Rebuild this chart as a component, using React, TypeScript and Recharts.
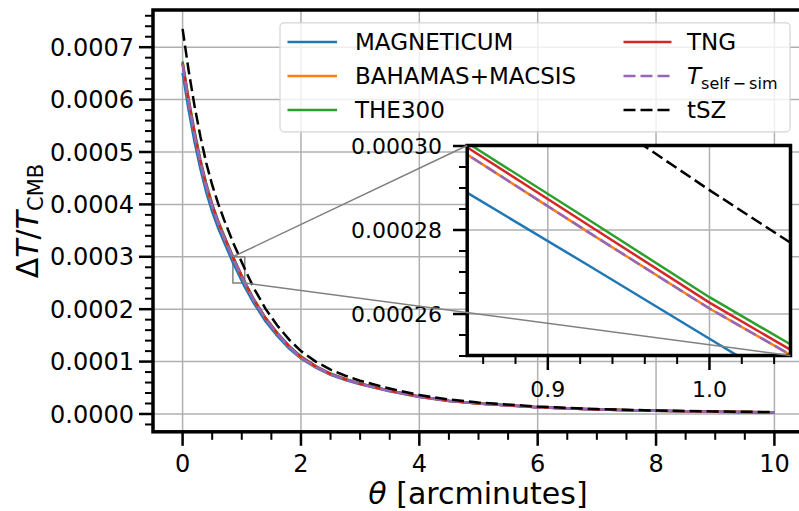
import React from 'react';
import { LineChart, Line, XAxis, YAxis, CartesianGrid, ReferenceArea } from 'recharts';

const W = 799;
const H = 511;
const FONT = '"DejaVu Sans", sans-serif';

// angular radius [arcmin]
const THETA = [0, 0.1, 0.2, 0.3, 0.4, 0.5, 0.6, 0.7, 0.85, 0.925, 1.0, 1.05, 1.2, 1.4, 1.6, 1.8, 2.0, 2.25, 2.5, 2.75, 3.0, 3.5, 4.0, 4.5, 5.0, 6.0, 7.0, 8.0, 9.0, 10.0];

const MAGNETICUM = [0.000651, 0.000581, 0.00052, 0.000468, 0.000423, 0.000386, 0.000355, 0.000328, 0.0002889, 0.0002716, 0.0002541, 0.0002425, 0.000212, 0.000177, 0.000149, 0.000125, 0.000106, 0.0000885, 0.0000745, 0.0000648, 0.0000566, 0.0000434, 0.0000326, 0.0000248, 0.0000198, 0.0000127, 0.0000085, 0.000006, 0.0000044, 0.0000033];
const BAHAMAS = [0.000669, 0.000598, 0.000535, 0.000481, 0.000435, 0.000397, 0.000365, 0.000337, 0.000298, 0.0002795, 0.0002613, 0.0002503, 0.000218, 0.000182, 0.000153, 0.000128, 0.000108, 0.00009, 0.000076, 0.000066, 0.0000575, 0.000044, 0.000033, 0.000025, 0.00002, 0.0000128, 0.0000085, 0.000006, 0.0000044, 0.0000033];
const THE300 = [0.000673, 0.000603, 0.000541, 0.000486, 0.00044, 0.000401, 0.000369, 0.000341, 0.0003008, 0.0002825, 0.000264, 0.0002528, 0.00022, 0.000184, 0.000155, 0.00013, 0.00011, 0.0000915, 0.0000772, 0.0000668, 0.0000582, 0.0000445, 0.0000334, 0.0000253, 0.0000202, 0.0000129, 0.0000086, 0.000006, 0.0000044, 0.0000033];
const TNG = [0.00067, 0.0006, 0.000538, 0.000483, 0.000437, 0.000399, 0.000367, 0.000339, 0.0002997, 0.0002812, 0.0002627, 0.0002515, 0.000219, 0.000183, 0.000154, 0.000129, 0.000109, 0.0000908, 0.0000766, 0.0000664, 0.0000578, 0.0000442, 0.0000332, 0.0000252, 0.0000201, 0.0000129, 0.0000086, 0.000006, 0.0000044, 0.0000033];
const SELF_SIM = [0.000667, 0.000597, 0.000535, 0.000481, 0.000435, 0.000397, 0.000365, 0.000337, 0.000298, 0.0002795, 0.0002613, 0.0002503, 0.000218, 0.000182, 0.000153, 0.000128, 0.000108, 0.00009, 0.000076, 0.000066, 0.0000575, 0.000044, 0.000033, 0.000025, 0.00002, 0.0000128, 0.0000085, 0.000006, 0.0000044, 0.0000033];
const TSZ = [0.000735, 0.000657, 0.000589, 0.00053, 0.000479, 0.000437, 0.000402, 0.000371, 0.000328, 0.000309, 0.0002895, 0.000277, 0.000241, 0.000201, 0.000169, 0.000142, 0.00012, 0.0001, 0.0000845, 0.000073, 0.0000635, 0.0000485, 0.0000362, 0.0000276, 0.000022, 0.0000141, 0.0000094, 0.0000066, 0.0000048, 0.0000036];

const X_TICKS = [0, 2, 4, 6, 8, 10];
const X_MINOR = [0.5, 1, 1.5, 2.5, 3, 3.5, 4.5, 5, 5.5, 6.5, 7, 7.5, 8.5, 9, 9.5];
const Y_TICKS = [0, 0.0001, 0.0002, 0.0003, 0.0004, 0.0005, 0.0006, 0.0007];
const Y_MINOR = [-0.00002, 0.00002, 0.00004, 0.00006, 0.00008, 0.00012, 0.00014, 0.00016, 0.00018, 0.00022, 0.00024, 0.00026, 0.00028, 0.00032, 0.00034, 0.00036, 0.00038, 0.00042, 0.00044, 0.00046, 0.00048, 0.00052, 0.00054, 0.00056, 0.00058, 0.00062, 0.00064, 0.00066, 0.00068, 0.00072, 0.00074, 0.00076];

const INSET_X_TICKS = [0.9, 1.0];
const INSET_X_MINOR = [0.86, 0.88, 0.92, 0.94, 0.96, 0.98, 1.02, 1.04];
const INSET_Y_TICKS = [0.00026, 0.00028, 0.0003];
const INSET_Y_MINOR = [0.00025, 0.000255, 0.000265, 0.00027, 0.000275, 0.000285, 0.00029, 0.000295];

const X_DOMAIN: [number, number] = [-0.5, 10.5];
const Y_DOMAIN: [number, number] = [-0.000034, 0.000771];
const INSET_X_DOMAIN: [number, number] = [0.85, 1.05];
const INSET_Y_DOMAIN: [number, number] = [0.00025, 0.0003];

// plot boxes in page pixels
const MAIN = { left: 153, top: 10, width: 651, height: 421.8 };
const INSET = { left: 467.2, top: 145.5, width: 323.3, height: 210 };

const SERIES = [
  { key: 'magneticum', name: 'MAGNETICUM', color: '#1f77b4', dashed: false },
  { key: 'bahamas', name: 'BAHAMAS+MACSIS', color: '#ff7f0e', dashed: false },
  { key: 'the300', name: 'THE300', color: '#2ca02c', dashed: false },
  { key: 'tng', name: 'TNG', color: '#d62728', dashed: false },
  { key: 'selfSim', name: 'T_self-sim', color: '#9467bd', dashed: true },
  { key: 'tsz', name: 'tSZ', color: '#000000', dashed: true },
];

const rows = THETA.map((t, i) => ({
  theta: t,
  magneticum: MAGNETICUM[i],
  bahamas: BAHAMAS[i],
  the300: THE300[i],
  tng: TNG[i],
  selfSim: SELF_SIM[i],
  tsz: TSZ[i],
}));

const isMajor = (majors: number[], v: number) => majors.some((m) => Math.abs(m - v) < 1e-12);

function makeXTick(majors: number[], fontSize: number, digits: number, baseline: number) {
  return (props: any) => {
    const { x, y, payload } = props;
    const major = isMajor(majors, payload.value);
    return (
      <g>
        <line x1={x} x2={x} y1={y} y2={y + (major ? 14 : 8)} stroke="#000" strokeWidth={major ? 2.5 : 2} />
        {major && (
          <text x={x} y={y + baseline} textAnchor="middle" fontSize={fontSize} fontFamily={FONT} fill="#000">
            {payload.value.toFixed(digits)}
          </text>
        )}
      </g>
    );
  };
}

function makeYTick(majors: number[], fontSize: number, digits: number, gap: number) {
  return (props: any) => {
    const { x, y, payload } = props;
    const major = isMajor(majors, payload.value);
    return (
      <g>
        <line x1={x - (major ? 14 : 8)} x2={x} y1={y} y2={y} stroke="#000" strokeWidth={major ? 2.5 : 2} />
        {major && (
          <text x={x - 14 - gap} y={y + fontSize * 0.36} textAnchor="end" fontSize={fontSize} fontFamily={FONT} fill="#000">
            {payload.value.toFixed(digits)}
          </text>
        )}
      </g>
    );
  };
}

function renderLines() {
  return SERIES.map((s) => (
    <Line
      key={s.key}
      type="linear"
      dataKey={s.key}
      stroke={s.color}
      strokeWidth={2.5}
      strokeDasharray={s.dashed ? '12 5' : undefined}
      dot={false}
      activeDot={false}
      isAnimationActive={false}
    />
  ));
}

const mx = (t: number) => MAIN.left + ((t - X_DOMAIN[0]) / (X_DOMAIN[1] - X_DOMAIN[0])) * MAIN.width;
const my = (v: number) => MAIN.top + ((Y_DOMAIN[1] - v) / (Y_DOMAIN[1] - Y_DOMAIN[0])) * MAIN.height;

const LEGEND_ROWS = [42, 76, 110];
const LEGEND_COLS = [{ x0: 287.5, x1: 337, tx: 355 }, { x0: 623.5, x1: 671.5, tx: 687 }];

export default function App() {
  const yAxisW = MAIN.left;
  const xAxisH = H - MAIN.top - MAIN.height;
  const insetYW = 140;
  const insetTop = 20;

  return (
    <div style={{ position: 'fixed', left: 0, top: 0, width: W, height: H, overflow: 'hidden', background: '#fff', fontFamily: FONT }}>
      <div style={{ position: 'absolute', left: 0, top: 0 }}>
        <LineChart width={MAIN.left + MAIN.width + 10} height={H} data={rows} margin={{ top: MAIN.top, right: 10, bottom: 0, left: 0 }}>
          <CartesianGrid stroke="#b0b0b0" strokeWidth={1.5} verticalValues={X_TICKS} horizontalValues={Y_TICKS} />
          <XAxis
            dataKey="theta"
            type="number"
            domain={X_DOMAIN}
            ticks={[...X_TICKS, ...X_MINOR]}
            interval={0}
            height={xAxisH}
            axisLine={false}
            tickLine={false}
            tickSize={0}
            tickMargin={0}
            tick={makeXTick(X_TICKS, 24, 0, 40)}
          />
          <YAxis
            type="number"
            domain={Y_DOMAIN}
            ticks={[...Y_TICKS, ...Y_MINOR]}
            interval={0}
            width={yAxisW}
            axisLine={false}
            tickLine={false}
            tickSize={0}
            tickMargin={0}
            tick={makeYTick(Y_TICKS, 24, 4, 5)}
          />
          <ReferenceArea x1={0.85} x2={1.05} y1={0.00025} y2={0.0003} fill="none" stroke="#808080" strokeWidth={1.5} />
          {renderLines()}
        </LineChart>
      </div>

      <div style={{ position: 'absolute', left: INSET.left - insetYW, top: INSET.top - insetTop }}>
        <LineChart
          width={insetYW + INSET.width + 10}
          height={insetTop + INSET.height + 60}
          data={rows}
          margin={{ top: insetTop, right: 10, bottom: 0, left: 0 }}
        >
          <CartesianGrid stroke="#b0b0b0" strokeWidth={1.5} fill="#fff" fillOpacity={1} verticalValues={INSET_X_TICKS} horizontalValues={INSET_Y_TICKS} />
          <XAxis
            dataKey="theta"
            type="number"
            domain={INSET_X_DOMAIN}
            allowDataOverflow
            ticks={[...INSET_X_TICKS, ...INSET_X_MINOR]}
            interval={0}
            height={60}
            axisLine={false}
            tickLine={false}
            tickSize={0}
            tickMargin={0}
            tick={makeXTick(INSET_X_TICKS, 22, 1, 41)}
          />
          <YAxis
            type="number"
            domain={INSET_Y_DOMAIN}
            allowDataOverflow
            ticks={[...INSET_Y_TICKS, ...INSET_Y_MINOR]}
            interval={0}
            width={insetYW}
            axisLine={false}
            tickLine={false}
            tickSize={0}
            tickMargin={0}
            tick={makeYTick(INSET_Y_TICKS, 22, 5, 11)}
          />
          {renderLines()}
        </LineChart>
      </div>

      <svg width={W} height={H} style={{ position: 'absolute', left: 0, top: 0, pointerEvents: 'none' }}>
        <rect x={MAIN.left} y={MAIN.top} width={MAIN.width} height={MAIN.height} fill="none" stroke="#000" strokeWidth={3.5} />
        <rect x={INSET.left} y={INSET.top} width={INSET.width} height={INSET.height} fill="none" stroke="#000" strokeWidth={3.5} />
        <line x1={mx(0.85)} y1={my(0.0003)} x2={INSET.left} y2={INSET.top} stroke="#808080" strokeWidth={1.5} />
        <line x1={mx(1.05)} y1={my(0.00025)} x2={INSET.left + INSET.width} y2={INSET.top + INSET.height} stroke="#808080" strokeWidth={1.5} />

        <rect x={280} y={22.8} width={510} height={109} rx={4} fill="#fff" fillOpacity={0.8} stroke="#d5d5d5" strokeWidth={1.2} />
        {SERIES.map((s, i) => {
          const col = LEGEND_COLS[Math.floor(i / 3)];
          const cy = LEGEND_ROWS[i % 3];
          return (
            <g key={s.key}>
              <line x1={col.x0} x2={col.x1} y1={cy} y2={cy} stroke={s.color} strokeWidth={2.5} strokeDasharray={s.dashed ? '12 5' : undefined} />
              {s.key === 'selfSim' ? (
                <text x={col.tx} y={cy + 8.4} fontSize={23} fontFamily={FONT} fill="#000">
                  <tspan fontStyle="italic">T</tspan>
                  <tspan fontSize={16} dy={5}>{'self\u2009\u2212\u2009sim'}</tspan>
                </text>
              ) : (
                <text x={col.tx} y={cy + 8.4} fontSize={23} fontFamily={FONT} fill="#000">
                  {s.name}
                </text>
              )}
            </g>
          );
        })}

        <text x={478} y={504} textAnchor="middle" fontSize={30} fontFamily={FONT} fill="#000">
          <tspan fontStyle="italic">θ</tspan>
          <tspan>{' [arcminutes]'}</tspan>
        </text>
        <text transform="translate(38,221) rotate(-90)" textAnchor="middle" fontSize={30} fontFamily={FONT} fill="#000">
          <tspan>Δ</tspan>
          <tspan fontStyle="italic">T</tspan>
          <tspan>/</tspan>
          <tspan fontStyle="italic">T</tspan>
          <tspan fontSize={21} dy={5}>CMB</tspan>
        </text>
      </svg>
    </div>
  );
}
